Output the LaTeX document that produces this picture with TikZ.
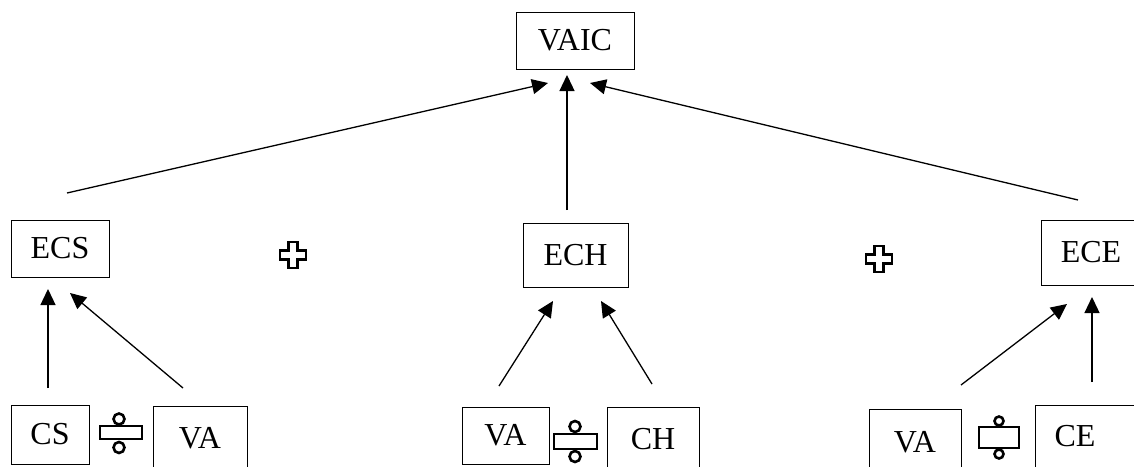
\documentclass[tikz,border=0pt]{standalone}
\usepackage{fontspec}
\setmainfont{Liberation Serif}
\usetikzlibrary{arrows.meta}
\tikzset{
  box/.style={draw, line width=1pt, inner sep=0pt, font=\fontsize{32}{35}\selectfont},
  lbl/.style={inner sep=0pt, font=\fontsize{32}{35}\selectfont},
  conn/.style={line width=1.3pt, -{Triangle[length=16pt,width=15pt]}},
  sym/.style={line width=2.6pt}
}
\begin{document}
\begin{tikzpicture}[x=1pt,y=-1pt]
\useasboundingbox (0,0) rectangle (1134,466);
% boxes
\node[box, minimum width=118pt, minimum height=57pt] (VAIC) at (575,40.5) {VAIC};
\node[box, minimum width=98pt, minimum height=57pt] (ECS) at (60,248.5) {ECS};
\node[box, minimum width=105pt, minimum height=64pt] (ECH) at (575.5,255) {ECH};
\node[box, minimum width=100pt, minimum height=65pt] (ECE) at (1091,252.5) {ECE};
\node[box, minimum width=78pt, minimum height=59pt] (CS) at (50,434.5) {CS};
\node[box, minimum width=94pt, minimum height=64pt] (VAa) at (200,438) {VA};
\node[box, minimum width=87pt, minimum height=57pt] (VAb) at (505.5,435.5) {VA};
\node[box, minimum width=92pt, minimum height=64pt] (CH) at (653,439) {CH};
\node[box, minimum width=92pt, minimum height=66pt] (VAc) at (915,442) {VA};
\node[draw, line width=1pt, minimum width=110pt, minimum height=66pt, anchor=north west, inner sep=0pt] (CEbox) at (1035,405) {};
\node[lbl] (CE) at (1075,436) {CE};
% connector end points
\coordinate (ecsT) at (67,193);
\coordinate (vaicL) at (548,83);
\coordinate (echT) at (567,210);
\coordinate (vaicM) at (567,75);
\coordinate (eceT) at (1078,200);
\coordinate (vaicR) at (590,83);
\coordinate (csT) at (48,388);
\coordinate (ecsB1) at (48,289);
\coordinate (vaaT) at (183,388);
\coordinate (ecsB2) at (70,293);
\coordinate (vabT) at (499,386);
\coordinate (echB1) at (553,301);
\coordinate (chT) at (652,384);
\coordinate (echB2) at (601,301);
\coordinate (vacT) at (961,385);
\coordinate (eceB1) at (1067,304);
\coordinate (ceT) at (1092,382);
\coordinate (eceB2) at (1092,297);
% connectors
\draw[conn] (ecsT) -- (vaicL);
\draw[conn] (echT) -- (vaicM);
\draw[conn] (eceT) -- (vaicR);
\draw[conn] (csT) -- (ecsB1);
\draw[conn] (vaaT) -- (ecsB2);
\draw[conn] (vabT) -- (echB1);
\draw[conn] (chT) -- (echB2);
\draw[conn] (vacT) -- (eceB1);
\draw[conn] (ceT) -- (eceB2);
% plus signs
\foreach \cx/\cy in {293/255, 879/259}{
  \draw[sym, fill=white] (\cx-4.5,\cy-13) -- (\cx+4.5,\cy-13) -- (\cx+4.5,\cy-4.5) -- (\cx+13,\cy-4.5)
    -- (\cx+13,\cy+4.5) -- (\cx+4.5,\cy+4.5) -- (\cx+4.5,\cy+13) -- (\cx-4.5,\cy+13) -- (\cx-4.5,\cy+4.5)
    -- (\cx-13,\cy+4.5) -- (\cx-13,\cy-4.5) -- (\cx-4.5,\cy-4.5) -- cycle;
}
% division symbols
\draw[sym] (100,426) rectangle (142,439);
\draw[sym] (119,419) circle (5.5);
\draw[sym] (119,447.5) circle (5.5);
\draw[sym] (554,434) rectangle (597,449);
\draw[sym] (575,426.5) circle (5.5);
\draw[sym] (575,456.5) circle (5.5);
\draw[sym] (979,427) rectangle (1019,448);
\draw[sym] (999,421) circle (4.5);
\draw[sym] (999,454) circle (4.5);
\end{tikzpicture}
\end{document}
